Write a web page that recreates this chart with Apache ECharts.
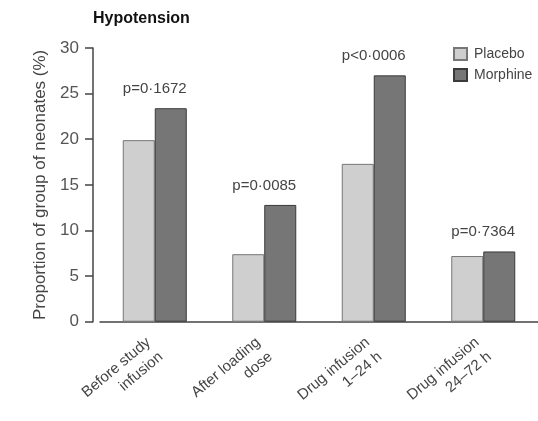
<!DOCTYPE html>
<html lang="en">
<head>
    <meta charset="UTF-8">
    <title>Hypotension</title>
    <script src="https://cdn.jsdelivr.net/npm/echarts@6/dist/echarts.min.js"></script>
    <style>
        * { margin: 0; padding: 0; }
        html, body { width: 100%; height: 100%; background: #fff; }
    </style>
</head>
<body>
<div id="main" style="width: 538px;height:421px;"></div>
<script type="text/javascript">
    // data
    var categories = ['Before study\ninfusion', 'After loading\ndose', 'Drug infusion\n1\u201324 h', 'Drug infusion\n24\u201372 h'];
    var placebo = [19.9, 7.4, 17.3, 7.2];
    var morphine = [23.4, 12.8, 27.0, 7.7];
    var pLabels = ['p=0\u00b71672', 'p=0\u00b70085', 'p<0\u00b70006', 'p=0\u00b77364'];

    var font = '"Liberation Sans", Arial, sans-serif';
    var myChart = echarts.init(document.getElementById('main'));
    var option = {
        animation: false,
        title: {
            text: 'Hypotension',
            left: 93, top: 11, padding: 0,
            textStyle: {fontFamily: font, fontSize: 16, fontWeight: 'bold', color: '#111'}
        },
        legend: {
            left: 453, top: 47, padding: 0, orient: 'vertical', itemGap: 7,
            itemWidth: 13, itemHeight: 12, icon: 'rect',
            textStyle: {fontFamily: font, fontSize: 14, color: '#444', padding: [0, 0, 0, 2]},
            data: ['Placebo', 'Morphine']
        },
        grid: {left: 100, right: -6, top: 48, bottom: 98},
        xAxis: {
            type: 'category',
            data: categories,
            axisLine: {lineStyle: {color: '#444', width: 1.5}},
            axisTick: {show: false},
            axisLabel: {
                rotate: 40, interval: 0, margin: 26,
                fontFamily: font, fontSize: 15, color: '#444', lineHeight: 19
            }
        },
        yAxis: {
            type: 'value',
            min: 0, max: 30, interval: 5,
            offset: 7,
            name: 'Proportion of group of neonates (%)',
            nameLocation: 'middle', nameGap: 44, nameRotate: 90,
            nameTextStyle: {fontFamily: font, fontSize: 17, color: '#444'},
            axisLine: {show: true, lineStyle: {color: '#444', width: 1.5}},
            axisTick: {show: true, length: 8, lineStyle: {color: '#444', width: 1.5}},
            axisLabel: {fontFamily: font, fontSize: 17, color: '#555', margin: 14},
            splitLine: {show: false}
        },
        series: [
            {
                name: 'Placebo', type: 'bar', data: placebo,
                barWidth: 32, barGap: '0%',
                itemStyle: {color: '#cfcfcf', borderColor: '#777', borderWidth: 1}
            },
            {
                name: 'Morphine', type: 'bar', data: morphine,
                barWidth: 32,
                itemStyle: {color: '#767676', borderColor: '#3a3a3a', borderWidth: 1},
                label: {
                    show: true, position: 'top', distance: 12, offset: [-16, 0],
                    formatter: function (p) { return pLabels[p.dataIndex]; },
                    fontFamily: font, fontSize: 15, color: '#444'
                }
            }
        ]
    };
    myChart.setOption(option);
</script>
</body>
</html>
